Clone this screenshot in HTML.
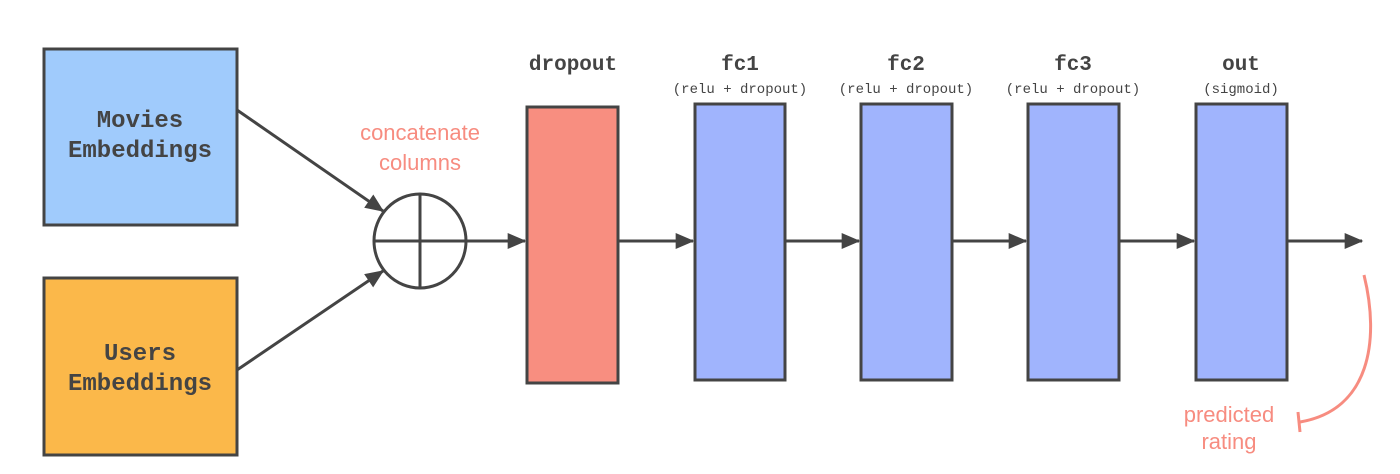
<!DOCTYPE html>
<html><head><meta charset="utf-8"><style>
html,body{margin:0;padding:0;background:#fff;width:1400px;height:474px;overflow:hidden}
svg{display:block}
.mono{font-family:"Liberation Mono",monospace;fill:#444}
.sans{font-family:"Liberation Sans",sans-serif;fill:#f78c80}
</style></head><body>
<svg width="1400" height="474" viewBox="0 0 1400 474">
<defs>
<marker id="a2" viewBox="0 0 14 12" refX="13" refY="6" markerWidth="19" markerHeight="16" orient="auto" markerUnits="userSpaceOnUse"><path d="M0,0 L14,6 L0,12 z" fill="#444"/></marker></defs>
<g>
<rect x="44" y="49" width="193" height="176" fill="#a0cbfc" stroke="#444" stroke-width="3"/>
<text class="mono" x="140" y="127" text-anchor="middle" font-size="24" font-weight="bold">Movies</text>
<text class="mono" x="140" y="157" text-anchor="middle" font-size="24" font-weight="bold">Embeddings</text></g>
<g>
<rect x="44" y="278" width="193" height="177" fill="#fbb84a" stroke="#444" stroke-width="3"/>
<text class="mono" x="140" y="360" text-anchor="middle" font-size="24" font-weight="bold">Users</text>
<text class="mono" x="140" y="390" text-anchor="middle" font-size="24" font-weight="bold">Embeddings</text></g>
<line x1="237" y1="110" x2="383" y2="211" stroke="#444" stroke-width="3" marker-end="url(#a2)"/>
<line x1="237" y1="370" x2="383" y2="271" stroke="#444" stroke-width="3" marker-end="url(#a2)"/>
<g>
<ellipse cx="420" cy="241" rx="46" ry="47" fill="#fff" stroke="#444" stroke-width="3"/>
<line x1="374" y1="241" x2="466" y2="241" stroke="#444" stroke-width="3"/>
<line x1="420" y1="194" x2="420" y2="288" stroke="#444" stroke-width="3"/></g>
<text class="sans" x="420" y="140" text-anchor="middle" font-size="22">concatenate</text>
<text class="sans" x="420" y="170" text-anchor="middle" font-size="22">columns</text>
<line x1="466" y1="241" x2="525" y2="241" stroke="#444" stroke-width="3" marker-end="url(#a2)"/>
<g>
<rect x="527" y="107" width="91" height="276" fill="#f88e80" stroke="#444" stroke-width="3"/>
<text class="mono" x="573" y="70" text-anchor="middle" font-size="21" font-weight="bold">dropout</text></g>
<line x1="618" y1="241" x2="693" y2="241" stroke="#444" stroke-width="3" marker-end="url(#a2)"/>
<g>
<rect x="695" y="104" width="90" height="276" fill="#a0b4fd" stroke="#444" stroke-width="3"/>
<text class="mono" x="740" y="70" text-anchor="middle" font-size="21" font-weight="bold">fc1</text>
<text class="mono" x="740" y="93" text-anchor="middle" font-size="14">(relu + dropout)</text></g>
<line x1="785" y1="241" x2="859" y2="241" stroke="#444" stroke-width="3" marker-end="url(#a2)"/>
<g>
<rect x="861" y="104" width="91" height="276" fill="#a0b4fd" stroke="#444" stroke-width="3"/>
<text class="mono" x="906" y="70" text-anchor="middle" font-size="21" font-weight="bold">fc2</text>
<text class="mono" x="906" y="93" text-anchor="middle" font-size="14">(relu + dropout)</text></g>
<line x1="952" y1="241" x2="1026" y2="241" stroke="#444" stroke-width="3" marker-end="url(#a2)"/>
<g>
<rect x="1028" y="104" width="91" height="276" fill="#a0b4fd" stroke="#444" stroke-width="3"/>
<text class="mono" x="1073" y="70" text-anchor="middle" font-size="21" font-weight="bold">fc3</text>
<text class="mono" x="1073" y="93" text-anchor="middle" font-size="14">(relu + dropout)</text></g>
<line x1="1119" y1="241" x2="1194" y2="241" stroke="#444" stroke-width="3" marker-end="url(#a2)"/>
<g>
<rect x="1196" y="104" width="91" height="276" fill="#a0b4fd" stroke="#444" stroke-width="3"/>
<text class="mono" x="1241" y="70" text-anchor="middle" font-size="21" font-weight="bold">out</text>
<text class="mono" x="1241" y="93" text-anchor="middle" font-size="14">(sigmoid)</text></g>
<line x1="1287" y1="241" x2="1362" y2="241" stroke="#444" stroke-width="3" marker-end="url(#a2)"/>
<path d="M1364,275 C1380,340 1370,410 1300,422" fill="none" stroke="#f78c80" stroke-width="3"/>
<line x1="1298" y1="412" x2="1300" y2="432" stroke="#f78c80" stroke-width="3"/>
<text class="sans" x="1229" y="422" text-anchor="middle" font-size="22">predicted</text>
<text class="sans" x="1229" y="449" text-anchor="middle" font-size="22">rating</text>
</svg>
</body></html>
